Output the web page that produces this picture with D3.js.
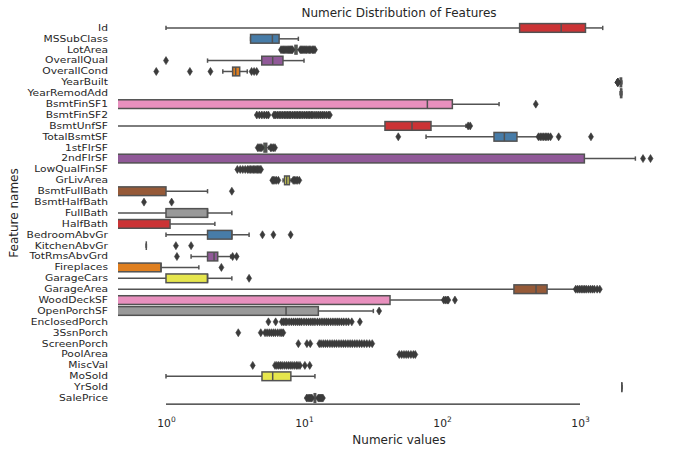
<!DOCTYPE html>
<html><head><meta charset="utf-8">
<script src="https://cdn.jsdelivr.net/npm/d3@7"></script>
<style>
body{margin:0;background:#fff}
svg text{font-family:"DejaVu Sans",sans-serif;fill:#262626}
</style>
</head><body>
<svg id="chart" width="683" height="454"></svg>
<script>
// ---------------- data ----------------
const features = ["Id","MSSubClass","LotArea","OverallQual","OverallCond","YearBuilt","YearRemodAdd",
  "BsmtFinSF1","BsmtFinSF2","BsmtUnfSF","TotalBsmtSF","1stFlrSF","2ndFlrSF","LowQualFinSF","GrLivArea",
  "BsmtFullBath","BsmtHalfBath","FullBath","HalfBath","BedroomAbvGr","KitchenAbvGr","TotRmsAbvGrd",
  "Fireplaces","GarageCars","GarageArea","WoodDeckSF","OpenPorchSF","EnclosedPorch","3SsnPorch",
  "ScreenPorch","PoolArea","MiscVal","MoSold","YrSold","SalePrice"];

// Set1 palette, desaturated (seaborn boxplot saturation 0.75)
const palette = ["#cb3335","#477ca8","#59a257","#905998","#df7f20","#e6e64d","#965a38","#e890be","#999999"];

const whiskerLow = [1, 4.1, 8.3, 2, 2.58, 1885, 1950,
  0, 0, 0, 76.6, 5.05, 0, 0, 7.05,
  0, 0, 0, 0, 1, 0.72, 1.52,
  0, 0, 0, 0, 0, 0, 0,
  0, 0, 0, 1, 2006, 11.55];
const quartile1 = [365, 4.1, 8.6, 4.94, 3.04, 1954, 1967,
  0, 0, 38.6, 238, 5.13, 0, 0, 7.23,
  0, 0, 1, 0, 2, 0.72, 2.0,
  0, 1, 332, 0, 0, 0, 0,
  0, 0, 0, 4.96, 2007, 11.85];
const medians = [730, 5.9, 8.75, 5.93, 3.2, 1973, 1994,
  78.3, 0, 60.6, 283, 5.25, 0, 0, 7.5,
  0, 0, 2, 0, 3, 0.72, 2.23,
  0.92, 2, 480, 0, 7.41, 0, 0,
  0, 0, 0, 5.93, 2008, 12.0];
const quartile3 = [1095, 6.6, 8.9, 7.04, 3.42, 2000, 2004,
  118.8, 0, 83.2, 349, 5.37, 1075, 0, 7.83,
  1, 0, 2, 1.07, 3, 0.72, 2.37,
  0.92, 2, 577, 42, 12.7, 0, 0,
  0, 0, 0, 8.03, 2009, 12.15];
const whiskerHigh = [1460, 9.1, 9.3, 10, 3.88, 2010, 2010,
  259, 0, 149, 495, 5.55, 2518, 0, 8.05,
  2, 0, 3, 2.26, 4, 0.72, 2.94,
  1.73, 3, 920, 102, 31.8, 0, 0,
  0, 0, 0, 12, 2010, 12.5];
const outliers = [
  [],
  [],
  [6.81,6.95,7.1,7.25,7.4,7.55,7.7,7.85,8.0,8.12,8.25, 9.4,9.6,9.8,10.0,10.2,10.45,10.7,10.95,11.2,11.5,11.75,12.0],
  [1],
  [0.85,1.49,2.1,4.17,4.35,4.54],
  [1872,1875,1876,1880,1882],
  [],
  [478],
  [4.55,4.75,4.95,5.15,5.35,5.52, 6.06,6.2,6.4,6.6,6.8,7.0,7.2,7.4,7.6,7.8,8.0,8.25,8.5,8.75,9.0,9.25,9.5,9.8,10.1,10.4,10.7,11.0,11.3,11.6,12.0,12.4,12.8,13.2,13.6,14.0,14.5,15.0,15.4],
  [154.6,160],
  [48.2,500,515,530,545,560,575,590,611,700,1200],
  [4.62,4.72,4.82,4.94,5.73,5.85,6.0,6.16],
  [2860,3240],
  [3.29,3.45,3.6,3.75,3.9,4.0,4.1,4.2,4.3,4.4,4.5,4.6,4.7,4.8,4.88],
  [5.89,6.0,6.15,6.3,6.52,8.36,8.55,8.75,8.95,9.24],
  [3],
  [0.693,1.099],
  [],
  [],
  [5,6,8],
  [1.18,1.52],
  [1.2,3.04,3.25],
  [2.52],
  [4],
  [930,960,990,1020,1050,1080,1110,1150,1190,1230,1270,1330,1390],
  [103,106,109,111,124],
  [35],
  [5.52,6.23,6.9,7.1,7.3,7.5,7.8,8.1,8.4,8.7,9.0,9.3,9.6,10.0,10.4,10.8,11.2,11.6,12.0,12.5,13.0,13.5,14.0,14.5,15.0,15.6,16.2,16.8,17.4,18.0,18.7,19.4,20.2,21.0,22.2,25.4],
  [3.34,4.86,5.22,5.4,5.6,5.8,6.0,6.2,6.45,6.7,6.9,7.08],
  [9.1,10.5,11.1,12.9,13.3,13.8,14.3,14.8,15.4,16.0,16.6,17.2,17.9,18.6,19.3,20.0,20.8,21.6,22.4,23.3,24.2,25.2,26.2,27.3,28.5,29.8,31.2],
  [49,51,53,55,57,59.5,62,64],
  [4.25,6.16,6.35,6.55,6.75,6.95,7.2,7.45,7.7,7.95,8.2,8.5,8.8,9.05,9.35,10.15,11.0],
  [],
  [],
  [10.46,10.7,10.95,11.2,11.4,12.7,12.95,13.2,13.45,13.7]
];
const tickValues = [1, 10, 100, 1000];
const tickExponents = ["0","1","2","3"];
const xDomain = [0.449, 5300];

const titleText = "Numeric Distribution of Features";
const xLabelText = "Numeric values";
const yLabelText = "Feature names";

// ---------------- layout ----------------
const svg = d3.select("#chart");
const M = {left:118, right:680, top:22.5, bottom:403.5};
const lineColor = "#525252";
const flierColor = "#3b3b3b";

const x = d3.scaleLog().domain(xDomain).range([M.left, M.right]);
const y = d3.scaleBand().domain(features).range([M.top, M.bottom]).padding(0);
const boxH = y.bandwidth() * 0.8;
const px = v => v > 0 ? x(v) : M.left - 40;

svg.append("defs").append("clipPath").attr("id","plotclip")
  .append("rect").attr("x", M.left).attr("y", 0).attr("width", M.right - M.left).attr("height", 454);

const plot = svg.append("g").attr("clip-path","url(#plotclip)");

features.forEach((f, i) => {
  const cy = y(f) + y.bandwidth()/2;
  const g = plot.append("g");
  const col = palette[i % palette.length];
  // whiskers
  g.append("line").attr("x1", px(quartile1[i])).attr("x2", px(whiskerLow[i]))
    .attr("y1", cy).attr("y2", cy).attr("stroke", lineColor).attr("stroke-width", 1.5);
  g.append("line").attr("x1", px(quartile3[i])).attr("x2", px(whiskerHigh[i]))
    .attr("y1", cy).attr("y2", cy).attr("stroke", lineColor).attr("stroke-width", 1.5);
  // caps
  [whiskerLow[i], whiskerHigh[i]].forEach(v => {
    g.append("line").attr("x1", px(v)).attr("x2", px(v))
      .attr("y1", cy - boxH/4).attr("y2", cy + boxH/4)
      .attr("stroke", lineColor).attr("stroke-width", 1.5);
  });
  // box
  const b0 = px(quartile1[i]), b1 = px(quartile3[i]);
  if (b1 - b0 > 0) {
    g.append("rect").attr("x", b0).attr("y", cy - boxH/2)
      .attr("width", b1 - b0).attr("height", boxH)
      .attr("fill", col).attr("stroke", lineColor).attr("stroke-width", 1.5);
  }
  // median
  g.append("line").attr("x1", px(medians[i])).attr("x2", px(medians[i]))
    .attr("y1", cy - boxH/2).attr("y2", cy + boxH/2)
    .attr("stroke", lineColor).attr("stroke-width", 1.5);
  // fliers (thin diamonds)
  g.selectAll("path.flier").data(outliers[i]).enter().append("path")
    .attr("class","flier")
    .attr("d", d => {
      const cx = x(d), hw = 2.5, hh = 4;
      return `M${cx},${cy-hh}L${cx+hw},${cy}L${cx},${cy+hh}L${cx-hw},${cy}Z`;
    })
    .attr("fill", flierColor).attr("stroke", flierColor).attr("stroke-width", 0.6);
});

// y axis labels (slightly flattened so neighbouring rows do not collide)
const yAxis = svg.append("g").attr("transform", `translate(${M.left},0)`)
  .call(d3.axisLeft(y).tickSize(0).tickPadding(10));
yAxis.select(".domain").remove();
yAxis.selectAll(".tick text")
  .attr("font-size", 10.7).attr("font-family", "DejaVu Sans").attr("fill", "#262626")
  .attr("dy", null).attr("y", 3.3)
  .attr("transform", "scale(1,0.87)");

// x axis (trimmed spine, no tick marks)
const xAxis = svg.append("g").attr("transform", `translate(0,${M.bottom})`)
  .call(d3.axisBottom(x).tickValues(tickValues).tickSize(0).tickFormat(() => ""));
xAxis.select(".domain").remove();
xAxis.append("line")
  .attr("x1", x(tickValues[0])).attr("x2", x(tickValues[tickValues.length-1]))
  .attr("y1", 0.5).attr("y2", 0.5).attr("stroke", "#262626").attr("stroke-width", 1.25);
xAxis.selectAll(".tick text").each(function(d) {
  const t = d3.select(this).text(null).attr("y", 23).attr("dy", null)
    .attr("font-size", 10.7).attr("font-family", "DejaVu Sans").attr("fill", "#262626")
    .attr("text-anchor", "middle");
  t.append("tspan").text("10");
  t.append("tspan").attr("font-size", 7.5).attr("dy", -5).text(tickExponents[tickValues.indexOf(d)]);
});

// title & labels
svg.append("text").attr("x", (M.left + M.right)/2).attr("y", 16.5)
  .attr("text-anchor", "middle").attr("font-size", 12).text(titleText);
svg.append("text").attr("x", (M.left + M.right)/2).attr("y", 444)
  .attr("text-anchor", "middle").attr("font-size", 12).text(xLabelText);
svg.append("text").attr("transform", `translate(17.5,${(M.top + M.bottom)/2}) rotate(-90)`)
  .attr("text-anchor", "middle").attr("font-size", 12).text(yLabelText);
</script>
</body></html>
